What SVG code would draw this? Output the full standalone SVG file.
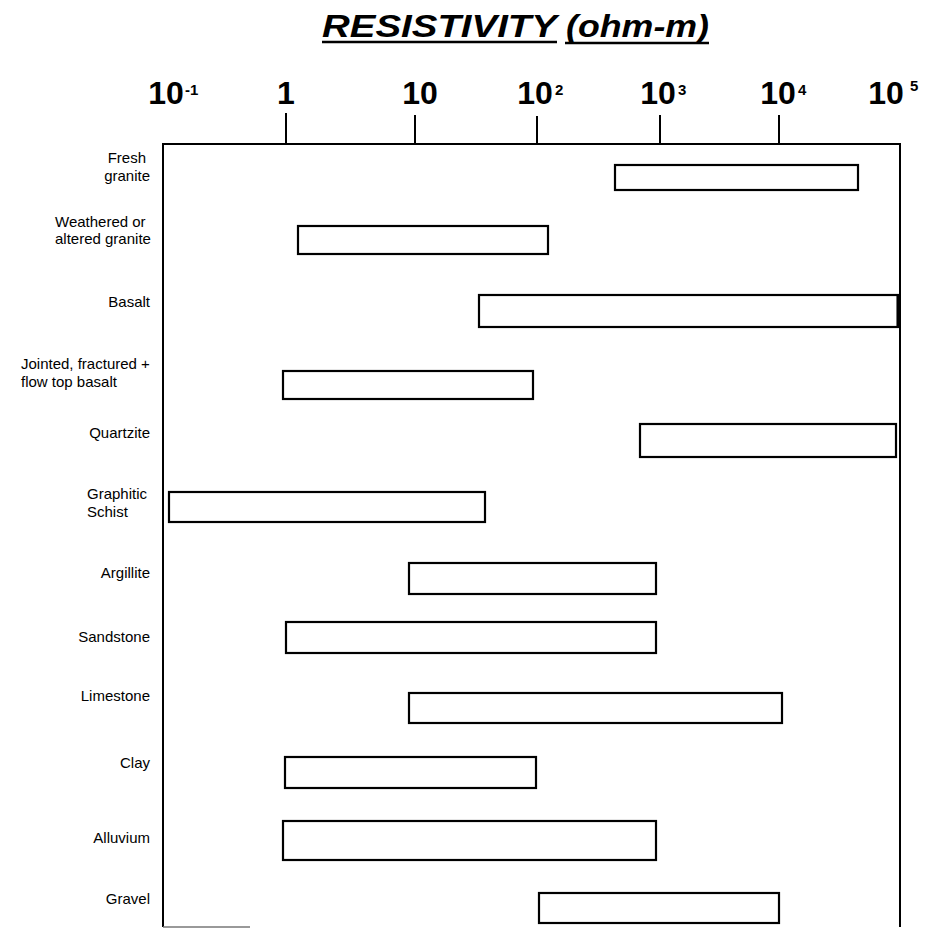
<svg xmlns="http://www.w3.org/2000/svg" width="931" height="928" viewBox="0 0 931 928">
<style>
.lbl{font-family:"Liberation Sans",Arial,sans-serif;font-size:15px;fill:#000}
.ax{font-family:"Liberation Sans",Arial,sans-serif;font-size:32px;font-weight:bold;fill:#000;text-anchor:middle}
.sup{font-family:"Liberation Sans",Arial,sans-serif;font-size:15px;font-weight:bold;fill:#000}
.ttl{font-family:"Liberation Sans",Arial,sans-serif;font-size:31px;font-weight:bold;font-style:italic;fill:#000}
.bar{fill:#fff;stroke:#000;stroke-width:2.2}
.ln{stroke:#000;stroke-width:2;fill:none}
.e{text-anchor:end}
</style>
<rect width="931" height="928" fill="#fff"/>
<g id="title">
<text class="ttl" x="322" y="37" textLength="235" lengthAdjust="spacingAndGlyphs">RESISTIVITY</text>
<text class="ttl" x="566" y="37" textLength="143" lengthAdjust="spacingAndGlyphs">(ohm-m)</text>
<line x1="322" y1="42" x2="557" y2="42" stroke="#000" stroke-width="2.5"/>
<line x1="565" y1="43" x2="709" y2="43" stroke="#000" stroke-width="2.5"/>
</g>
<g id="axis">
<text class="ax" x="166" y="104">10</text><text class="sup" x="185" y="95">-1</text>
<text class="ax" x="286" y="104">1</text>
<text class="ax" x="420" y="104">10</text>
<text class="ax" x="535" y="104">10</text><text class="sup" x="555" y="95">2</text>
<text class="ax" x="658" y="104">10</text><text class="sup" x="678" y="95">3</text>
<text class="ax" x="778" y="104">10</text><text class="sup" x="798" y="95">4</text>
<text class="ax" x="886" y="104">10</text><text class="sup" x="910" y="91">5</text>
<path class="ln" d="M163,927 V144 H900 V927"/>
<line x1="163" y1="927" x2="250" y2="927" stroke="#777" stroke-width="1.5"/>
<path class="ln" d="M286,113 V144 M415,115 V144 M537,116 V144 M660,115 V144 M779,115 V144"/>
</g>
<g id="fresh-granite">
<text class="lbl e" x="146" y="163">Fresh</text><text class="lbl e" x="150" y="181">granite</text>
<rect class="bar" x="615" y="165" width="243" height="25"/>
</g>
<g id="weathered-granite">
<text class="lbl" x="55" y="227">Weathered or</text><text class="lbl" x="55" y="244">altered granite</text>
<rect class="bar" x="298" y="226" width="250" height="28"/>
</g>
<g id="basalt">
<text class="lbl e" x="150" y="307">Basalt</text>
<rect class="bar" x="479" y="295" width="419" height="32"/>
<line x1="898" y1="295" x2="898" y2="327" stroke="#000" stroke-width="3"/>
</g>
<g id="jointed-basalt">
<text class="lbl" x="21" y="369">Jointed, fractured +</text><text class="lbl" x="21" y="387">flow top basalt</text>
<rect class="bar" x="283" y="371" width="250" height="28"/>
</g>
<g id="quartzite">
<text class="lbl e" x="150" y="438">Quartzite</text>
<rect class="bar" x="640" y="424" width="256" height="33"/>
</g>
<g id="graphitic-schist">
<text class="lbl" x="87" y="499">Graphitic</text><text class="lbl" x="87" y="517">Schist</text>
<rect class="bar" x="169" y="492" width="316" height="30"/>
</g>
<g id="argillite">
<text class="lbl e" x="150" y="578">Argillite</text>
<rect class="bar" x="409" y="563" width="247" height="31"/>
</g>
<g id="sandstone">
<text class="lbl e" x="150" y="642">Sandstone</text>
<rect class="bar" x="286" y="622" width="370" height="31"/>
</g>
<g id="limestone">
<text class="lbl e" x="150" y="701">Limestone</text>
<rect class="bar" x="409" y="693" width="373" height="30"/>
</g>
<g id="clay">
<text class="lbl e" x="150" y="768">Clay</text>
<rect class="bar" x="285" y="757" width="251" height="31"/>
</g>
<g id="alluvium">
<text class="lbl e" x="150" y="843">Alluvium</text>
<rect class="bar" x="283" y="821" width="373" height="39"/>
</g>
<g id="gravel">
<text class="lbl e" x="150" y="904">Gravel</text>
<rect class="bar" x="539" y="893" width="240" height="30"/>
</g>
<g id="connectors"/>
</svg>
